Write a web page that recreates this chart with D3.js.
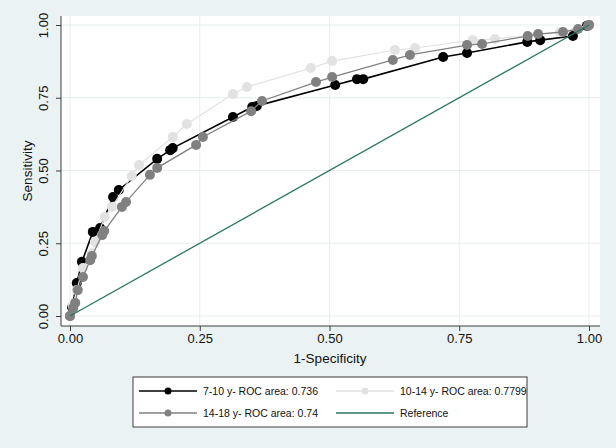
<!DOCTYPE html>
<html>
<head>
<meta charset="utf-8">
<script src="https://cdn.jsdelivr.net/npm/d3@7"></script>
<style>
  body { margin: 0; background: #eaf2f3; }
  text { font-family: "Liberation Sans", Arial, sans-serif; }
</style>
</head>
<body>
<script>
// ROC points (1-specificity, sensitivity)
var fpr710 = [0, 0.004, 0.013, 0.023, 0.044, 0.058, 0.083, 0.094, 0.168, 0.193, 0.198, 0.314, 0.351, 0.360, 0.511, 0.553, 0.565, 0.719, 0.765, 0.881, 0.906, 0.969, 0.996, 1];
var tpr710 = [0, 0.030, 0.113, 0.186, 0.289, 0.302, 0.409, 0.433, 0.540, 0.570, 0.577, 0.684, 0.718, 0.722, 0.794, 0.814, 0.814, 0.890, 0.904, 0.942, 0.948, 0.962, 0.997, 1];

var fpr1014 = [0, 0.005, 0.013, 0.025, 0.042, 0.048, 0.067, 0.081, 0.119, 0.133, 0.198, 0.225, 0.314, 0.341, 0.464, 0.505, 0.626, 0.665, 0.776, 0.819, 0.944, 1];
var tpr1014 = [0, 0.035, 0.089, 0.165, 0.216, 0.254, 0.340, 0.375, 0.481, 0.519, 0.615, 0.660, 0.763, 0.787, 0.852, 0.876, 0.914, 0.921, 0.948, 0.952, 0.976, 1];

var fpr1418 = [0, 0.006, 0.010, 0.015, 0.025, 0.039, 0.042, 0.062, 0.066, 0.100, 0.108, 0.154, 0.168, 0.243, 0.256, 0.349, 0.370, 0.474, 0.505, 0.622, 0.655, 0.765, 0.794, 0.882, 0.902, 0.950, 0.979, 0.998, 1];
var tpr1418 = [0, 0.027, 0.045, 0.089, 0.134, 0.192, 0.206, 0.278, 0.292, 0.375, 0.392, 0.485, 0.509, 0.588, 0.615, 0.704, 0.739, 0.804, 0.821, 0.880, 0.897, 0.931, 0.935, 0.962, 0.969, 0.976, 0.986, 0.997, 1];

var ticks = [0, 0.25, 0.5, 0.75, 1];
var tickLabels = ["0.00", "0.25", "0.50", "0.75", "1.00"];
var legendLabels = ["7-10 y- ROC area: 0.736", "10-14 y- ROC area: 0.7799", "14-18 y- ROC area: 0.74", "Reference"];

var width = 616,
	height = 448,
	colBlack = "#000000",
	colLight = "#e2e2e2",
	colGray = "#808080",
	colRef = "#2a7563",
	axisCol = "#3c3c3c";

var svg = d3.select("body").append("svg")
	.attr("width", width)
	.attr("height", height);

svg.append("rect").attr("width", width).attr("height", height).attr("fill", "#eaf2f3");

// plot region
svg.append("rect")
	.attr("x", 61).attr("y", 16)
	.attr("width", 539).attr("height", 310)
	.attr("fill", "#ffffff");

var x = d3.scaleLinear().domain([0, 1]).range([70, 589]);
var y = d3.scaleLinear().domain([0, 1]).range([316, 25]);

// gridlines
svg.selectAll(".hgrid").data(ticks).enter().append("line")
	.attr("x1", 61).attr("x2", 600)
	.attr("y1", function(d) { return y(d); })
	.attr("y2", function(d) { return y(d); })
	.attr("stroke", "#e6eef0").attr("stroke-width", 1);
svg.selectAll(".vgrid").data(ticks).enter().append("line")
	.attr("y1", 16).attr("y2", 326)
	.attr("x1", function(d) { return x(d); })
	.attr("x2", function(d) { return x(d); })
	.attr("stroke", "#e6eef0").attr("stroke-width", 1);

// axes
var xAxis = d3.axisBottom(x).tickValues(ticks)
	.tickFormat(function(d, i) { return tickLabels[i]; })
	.tickSize(5).tickSizeOuter(0);
var gx = svg.append("g").attr("transform", "translate(0,326)").call(xAxis);
gx.select(".domain").remove();
gx.append("line").attr("x1", 61).attr("x2", 600).attr("stroke", axisCol);
gx.selectAll(".tick line").attr("stroke", axisCol);
gx.selectAll(".tick text").attr("fill", "#111").style("font-size", "13px").attr("y", 8);

var yAxis = d3.axisLeft(y).tickValues(ticks)
	.tickFormat(function(d, i) { return tickLabels[i]; })
	.tickSize(5).tickSizeOuter(0);
var gy = svg.append("g").attr("transform", "translate(61,0)").call(yAxis);
gy.select(".domain").remove();
gy.append("line").attr("y1", 16).attr("y2", 326).attr("stroke", axisCol);
gy.selectAll(".tick line").attr("stroke", axisCol);
gy.selectAll(".tick text")
	.attr("fill", "#111").style("font-size", "13px")
	.attr("x", 0).attr("y", 0).attr("dy", 0)
	.attr("text-anchor", "middle")
	.attr("transform", "translate(-13,0) rotate(-90)");

svg.append("text").attr("x", 330).attr("y", 363)
	.attr("text-anchor", "middle").style("font-size", "13.5px").attr("fill", "#111")
	.text("1-Specificity");
svg.append("text")
	.attr("transform", "translate(32,171) rotate(-90)")
	.attr("text-anchor", "middle").style("font-size", "13.5px").attr("fill", "#111")
	.text("Sensitivity");

function curve(fx, fy, color, lw, r) {
	var pts = fx.map(function(v, i) { return [v, fy[i]]; });
	var line = d3.line().x(function(d) { return x(d[0]); }).y(function(d) { return y(d[1]); });
	svg.append("path").datum(pts)
		.attr("d", line).attr("fill", "none")
		.attr("stroke", color).attr("stroke-width", lw);
	svg.append("g").selectAll("circle").data(pts).enter().append("circle")
		.attr("cx", function(d) { return x(d[0]); })
		.attr("cy", function(d) { return y(d[1]); })
		.attr("r", r).attr("fill", color);
}

curve(fpr710, tpr710, colBlack, 1.6, 5);
curve(fpr1014, tpr1014, colLight, 1.2, 5);
curve(fpr1418, tpr1418, colGray, 1.3, 5);

// reference diagonal
svg.append("line")
	.attr("x1", x(0)).attr("y1", y(0))
	.attr("x2", x(1)).attr("y2", y(1))
	.attr("stroke", colRef).attr("stroke-width", 1.3);

// legend
var lg = svg.append("g");
lg.append("rect").attr("x", 133).attr("y", 377).attr("width", 394).attr("height", 50)
	.attr("fill", "#fff").attr("stroke", axisCol).attr("stroke-width", 1);

var items = [
	{ label: legendLabels[0], color: colBlack, marker: true, lx: 139, row: 391 },
	{ label: legendLabels[1], color: colLight, marker: true, lx: 336, row: 391 },
	{ label: legendLabels[2], color: colGray, marker: true, lx: 139, row: 413 },
	{ label: legendLabels[3], color: colRef, marker: false, lx: 336, row: 413 }
];
items.forEach(function(it) {
	lg.append("line").attr("x1", it.lx).attr("x2", it.lx + 58)
		.attr("y1", it.row).attr("y2", it.row)
		.attr("stroke", it.color).attr("stroke-width", 1.4);
	if (it.marker) {
		lg.append("circle").attr("cx", it.lx + 29).attr("cy", it.row).attr("r", 3.5).attr("fill", it.color);
	}
	lg.append("text").attr("x", it.lx + 64).attr("y", it.row + 3.5)
		.style("font-size", "10.5px").attr("fill", "#111").text(it.label);
});
</script>
</body>
</html>
